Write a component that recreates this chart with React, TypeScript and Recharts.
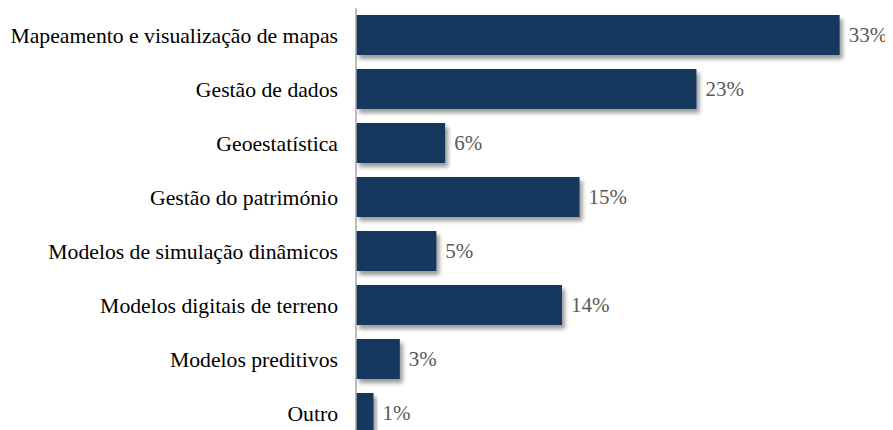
import React from "react";
import { BarChart, Bar, XAxis, YAxis, LabelList } from "recharts";

const categories = [
  "Mapeamento e visualização de mapas",
  "Gestão de dados",
  "Geoestatística",
  "Gestão do património",
  "Modelos de simulação dinâmicos",
  "Modelos digitais de terreno",
  "Modelos preditivos",
  "Outro",
];
const values = [33.1, 23.3, 6.1, 15.3, 5.5, 14.1, 3.0, 1.2];
const valueLabels = ["33%", "23%", "6%", "15%", "5%", "14%", "3%", "1%"];

const data = categories.map((c, i) => ({ name: c, value: values[i], label: valueLabels[i] }));

const FONT = "Liberation Serif, Times New Roman, serif";

const ShadowBar = (props: any) => {
  const { x, y, width, height, fill } = props;
  return <rect x={x} y={y} width={width} height={height} fill={fill} filter="url(#barShadow)" />;
};

export default function App() {
  return (
    <div style={{ position: "relative" }}>
      <svg width={0} height={0} style={{ position: "absolute" }}>
        <defs>
          <filter id="barShadow" x="-10%" y="-20%" width="130%" height="160%">
            <feGaussianBlur in="SourceAlpha" stdDeviation="2" />
            <feOffset dx="3" dy="4" result="off" />
            <feComponentTransfer>
              <feFuncA type="linear" slope="0.4" />
            </feComponentTransfer>
            <feMerge>
              <feMergeNode />
              <feMergeNode in="SourceGraphic" />
            </feMerge>
          </filter>
        </defs>
      </svg>
      <BarChart
        width={885}
        height={432}
        data={data}
        layout="vertical"
        margin={{ top: 0, right: 11, bottom: 0, left: 0 }}
        barCategoryGap={7}
      >
        <XAxis type="number" domain={[0, 36]} hide />
        <YAxis
          type="category"
          dataKey="name"
          width={348}
          tickLine={false}
          tickSize={0}
          tickMargin={18}
          axisLine={{ stroke: "#a6a6a6", strokeWidth: 1.5 }}
          tick={{ fill: "#000000", fontSize: 21.7, fontFamily: FONT }}
          interval={0}
        />
        <Bar dataKey="value" fill="#17375e" isAnimationActive={false} shape={<ShadowBar />}>
          <LabelList
            dataKey="label"
            position="right"
            offset={9}
            style={{ fill: "#595959", fontSize: 21, fontFamily: FONT }}
          />
        </Bar>
      </BarChart>
    </div>
  );
}
